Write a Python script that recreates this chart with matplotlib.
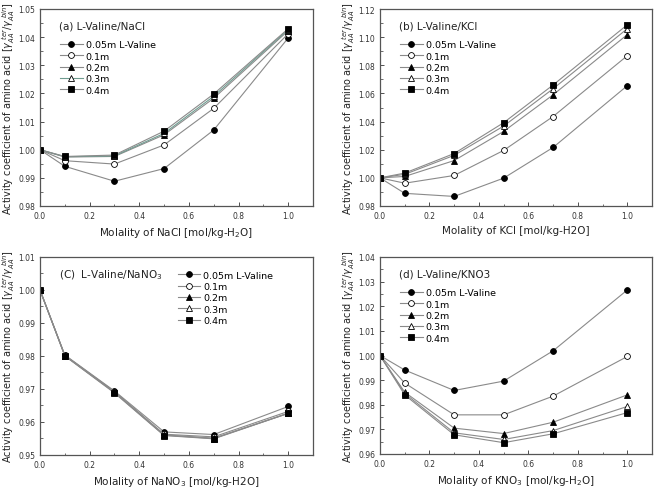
import numpy as np
import matplotlib
matplotlib.use('Agg')
import matplotlib.pyplot as plt
from matplotlib.ticker import MultipleLocator, FormatStrFormatter

# salt molality (mol/kg-H2O)
x = [0.0, 0.1, 0.3, 0.5, 0.7, 1.0]
series = ['0.05m L-Valine', '0.1m', '0.2m', '0.3m', '0.4m']

# (a) L-Valine / NaCl
nacl_005 = [1.000, 0.9941, 0.9888, 0.9933, 1.0070, 1.0397]
nacl_01 = [1.000, 0.9961, 0.9949, 1.0017, 1.0147, 1.0412]
nacl_02 = [1.000, 0.9974, 0.9976, 1.0053, 1.0183, 1.0423]
nacl_03 = [1.000, 0.9975, 0.9978, 1.0058, 1.0190, 1.0427]
nacl_04 = [1.000, 0.9976, 0.9981, 1.0066, 1.0198, 1.0430]

# (b) L-Valine / KCl
kcl_005 = [1.000, 0.9890, 0.9868, 0.9998, 1.0216, 1.0655]
kcl_01 = [1.000, 0.9962, 1.0017, 1.0195, 1.0436, 1.0868]
kcl_02 = [1.000, 1.0010, 1.0123, 1.0330, 1.0590, 1.1018]
kcl_03 = [1.000, 1.0025, 1.0160, 1.0368, 1.0633, 1.1060]
kcl_04 = [1.000, 1.0034, 1.0173, 1.0392, 1.0660, 1.1088]

# (c) L-Valine / NaNO3
nano3_005 = [1.000, 0.9803, 0.9694, 0.9570, 0.9562, 0.9647]
nano3_01 = [1.000, 0.9802, 0.9692, 0.9563, 0.9555, 0.9632]
nano3_02 = [1.000, 0.9801, 0.9690, 0.9561, 0.9551, 0.9626]
nano3_03 = [1.000, 0.9801, 0.9690, 0.9560, 0.9550, 0.9627]
nano3_04 = [1.000, 0.9800, 0.9688, 0.9559, 0.9549, 0.9626]

# (d) L-Valine / KNO3
kno3_005 = [1.000, 0.9941, 0.9858, 0.9896, 1.0019, 1.0266]
kno3_01 = [1.000, 0.9888, 0.9759, 0.9759, 0.9835, 0.9996]
kno3_02 = [1.000, 0.9851, 0.9705, 0.9683, 0.9729, 0.9840]
kno3_03 = [1.000, 0.9846, 0.9686, 0.9659, 0.9695, 0.9793]
kno3_04 = [1.000, 0.9840, 0.9678, 0.9646, 0.9682, 0.9768]

markers = ['o', 'o', '^', '^', 's']
faces = ['black', 'white', 'black', 'white', 'black']
grey = '#8a8a8a'

ylab = r'Activity coefficient of amino acid [$\gamma_{AA}^{\ ter}/\gamma_{AA}^{\ bin}$]'

panels = [
    dict(data=[nacl_005, nacl_01, nacl_02, nacl_03, nacl_04],
         title='(a) L-Valine/NaCl', xlab=r'Molality of NaCl [mol/kg-H$_2$O]',
         ylim=(0.98, 1.05), ystep=0.01,
         pos=[40/655, 1-207/489, 273/655, 197/489], leg=(0.06, 0.86),
         c03='#6f9c90'),
    dict(data=[kcl_005, kcl_01, kcl_02, kcl_03, kcl_04],
         title='(b) L-Valine/KCl', xlab='Molality of KCl [mol/kg-H2O]',
         ylim=(0.98, 1.12), ystep=0.02,
         pos=[380/655, 1-207/489, 272/655, 197/489], leg=(0.06, 0.86),
         c03=grey),
    dict(data=[nano3_005, nano3_01, nano3_02, nano3_03, nano3_04],
         title=r'(C)  L-Valine/NaNO$_3$', xlab=r'Molality of NaNO$_3$ [mol/kg-H2O]',
         ylim=(0.95, 1.01), ystep=0.01,
         pos=[40/655, 1-456/489, 273/655, 198/489], leg=(0.49, 0.95),
         c03=grey),
    dict(data=[kno3_005, kno3_01, kno3_02, kno3_03, kno3_04],
         title='(d) L-Valine/KNO3', xlab=r'Molality of KNO$_3$ [mol/kg-H$_2$O]',
         ylim=(0.96, 1.04), ystep=0.01,
         pos=[380/655, 1-455/489, 272/655, 197/489], leg=(0.06, 0.86),
         c03=grey),
]

fig = plt.figure(figsize=(6.55, 4.89), dpi=100)

for p in panels:
    ax = fig.add_axes(p['pos'])
    for i, y in enumerate(p['data']):
        col = p['c03'] if i == 3 else grey
        ax.plot(x, y, color=col, lw=0.8, marker=markers[i], ms=4.2,
                mfc=faces[i], mec='black', mew=0.6, label=series[i])
    ax.set_xlim(0, 1.1)
    ax.set_ylim(*p['ylim'])
    ax.xaxis.set_major_locator(MultipleLocator(0.2))
    ax.xaxis.set_minor_locator(MultipleLocator(0.1))
    ax.yaxis.set_major_locator(MultipleLocator(p['ystep']))
    ax.yaxis.set_minor_locator(MultipleLocator(p['ystep'] / 2))
    ax.xaxis.set_major_formatter(FormatStrFormatter('%.1f'))
    ax.yaxis.set_major_formatter(FormatStrFormatter('%.2f'))
    ax.tick_params(which='both', direction='in', labelsize=5.5, colors='#333333')
    ax.tick_params(which='major', length=3, width=0.6)
    ax.tick_params(which='minor', length=1.8, width=0.5)
    for s in ax.spines.values():
        s.set_color('#555555')
        s.set_linewidth(0.9)
    ax.text(0.07, 0.90, p['title'], transform=ax.transAxes,
            fontsize=7.5, color='#222222')
    ax.set_xlabel(p['xlab'], fontsize=7.5, color='#222222', labelpad=4)
    ax.set_ylabel(ylab, fontsize=7.0, color='#222222', labelpad=1)
    ax.legend(loc='upper left', bbox_to_anchor=p['leg'], frameon=False,
              fontsize=6.8, handlelength=2.4, handletextpad=0.3,
              labelspacing=0.25, borderaxespad=0.0)

fig.savefig('out.png', dpi=100)
